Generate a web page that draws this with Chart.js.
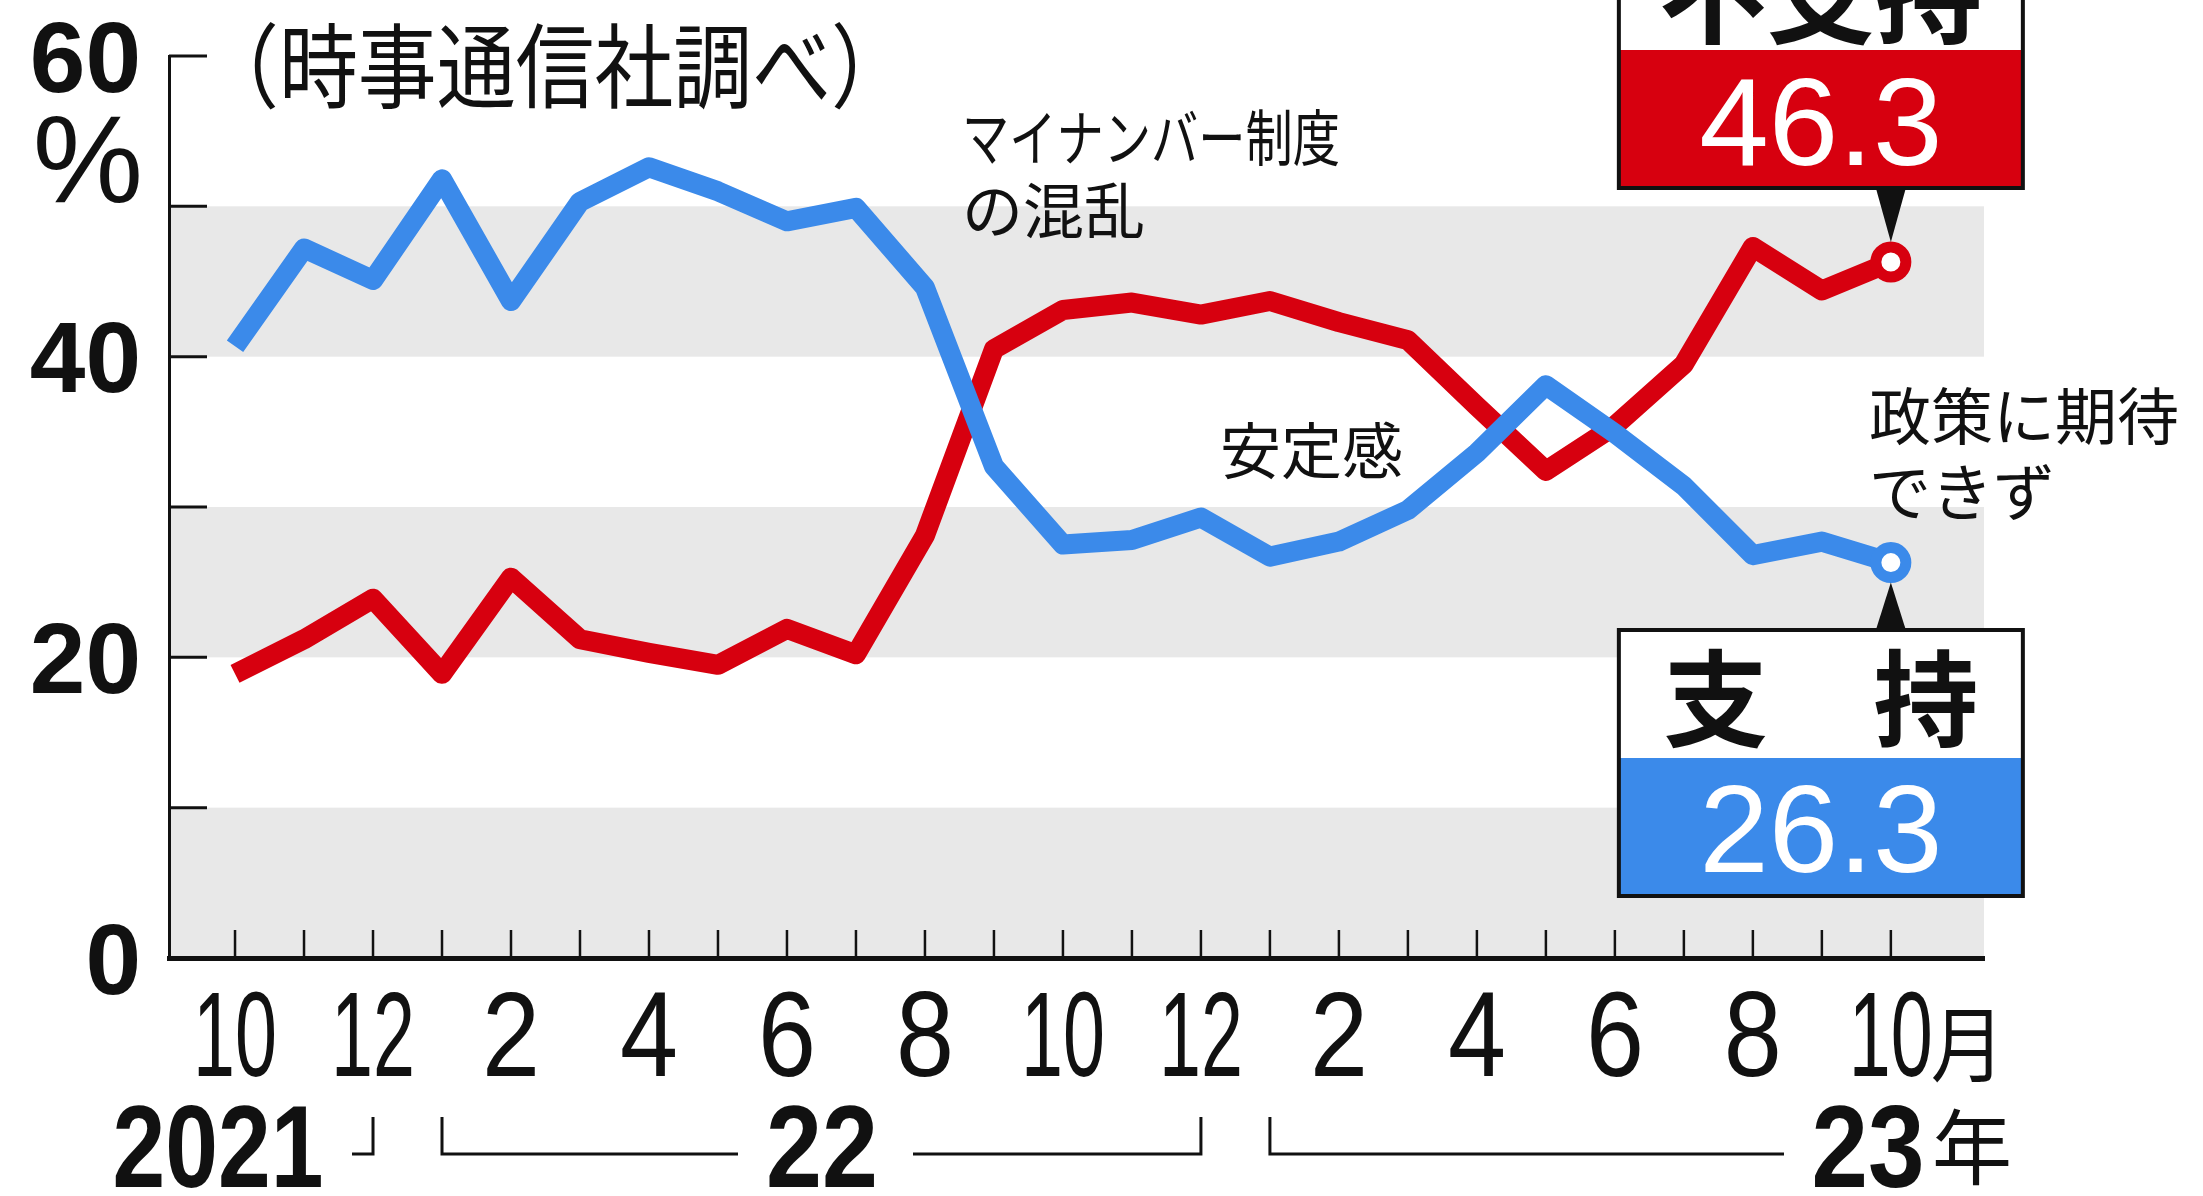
<!DOCTYPE html>
<html>
<head>
<meta charset="utf-8">
<script src="https://cdn.jsdelivr.net/npm/chart.js@4.4.0/dist/chart.umd.min.js"></script>
<style>
  html, body { margin: 0; padding: 0; background: #fff; overflow: hidden; }
</style>
</head>
<body>
<canvas id="grafica" width="2203" height="1196"></canvas>
<script>
// ===============================
// DATA (Jiji poll, Oct 2021 - Oct 2023)
// ===============================
const months  = ["10","11","12","1","2","3","4","5","6","7","8","9","10","11","12","1","2","3","4","5","6","7","8","9","10"];
const support = [40.7, 47.2, 45.1, 51.8, 43.7, 50.3, 52.6, 51.0, 49.0, 49.9, 44.6, 32.7, 27.5, 27.8, 29.3, 26.7, 27.7, 29.8, 33.6, 38.1, 34.9, 31.4, 26.8, 27.7, 26.3];
const oppose  = [18.9, 21.2, 23.9, 18.9, 25.3, 21.2, 20.3, 19.5, 21.9, 20.2, 28.1, 40.5, 43.1, 43.6, 42.8, 43.7, 42.3, 41.1, 36.7, 32.4, 35.4, 39.5, 47.3, 44.4, 46.3];
const yLabels = [0, 20, 40, 60];
const bands   = [[0, 10], [20, 30], [40, 50]];

const BLUE = "#3b8aea";
const RED  = "#d7000f";
const JP   = '"Noto Sans CJK JP", "Noto Sans", sans-serif';
const NUM  = '"Liberation Sans", Arial, sans-serif';

// digits: vertically centred on cap height
function num(ctx, s, x, cy, size, bold, color, align, maxW) {
  ctx.font = (bold ? "bold " : "") + size + "px " + NUM;
  ctx.fillStyle = color;
  ctx.textAlign = align;
  ctx.textBaseline = "alphabetic";
  const y = cy + size * 0.358;
  if (maxW) ctx.fillText(s, x, y, maxW); else ctx.fillText(s, x, y);
}

function jp(ctx, s, x, cy, size, bold, color, align, maxW) {
  ctx.font = (bold ? "bold " : "") + size + "px " + JP;
  ctx.fillStyle = color;
  ctx.textAlign = align;
  ctx.textBaseline = "middle";
  if (maxW) ctx.fillText(s, x, cy, maxW); else ctx.fillText(s, x, cy);
}

function line(ctx, pts, w) {
  ctx.beginPath();
  ctx.moveTo(pts[0][0], pts[0][1]);
  for (let i = 1; i < pts.length; i++) ctx.lineTo(pts[i][0], pts[i][1]);
  ctx.lineWidth = w;
  ctx.strokeStyle = "#111";
  ctx.stroke();
}

const deco = {
  id: "deco",
  beforeDraw(chart) {
    const { ctx, chartArea: a, scales: { y } } = chart;
    ctx.save();
    ctx.fillStyle = "#e8e8e8";
    bands.forEach(([lo, hi]) => {
      const t = y.getPixelForValue(hi), b = y.getPixelForValue(lo);
      ctx.fillRect(a.left, t, a.right - a.left, b - t);
    });
    ctx.restore();
  },
  beforeDatasetsDraw(chart) {
    const { ctx, chartArea: a, scales: { x, y } } = chart;
    ctx.save();
    for (let v = 0; v <= 60; v += 10) {
      const py = y.getPixelForValue(v);
      line(ctx, [[a.left, py], [a.left + 38, py]], 3);
    }
    months.forEach((m, i) => {
      const px = x.getPixelForValue(i);
      line(ctx, [[px, a.bottom], [px, a.bottom - 28]], 2.5);
    });
    ctx.restore();
  },
  afterDraw(chart) {
    const { ctx, scales: { x, y } } = chart;
    ctx.save();

    // y labels
    yLabels.forEach(v => num(ctx, String(v), 141, y.getPixelForValue(v), 100, true, "#111", "right"));
    num(ctx, "%", 143, 158, 124, false, "#111", "right");

    // month labels (every other month)
    months.forEach((m, i) => {
      if (i % 2) return;
      num(ctx, m, x.getPixelForValue(i), 1033, 120, false, "#111", "center", m.length === 1 ? 58 : 84);
    });
    jp(ctx, "月", x.getPixelForValue(24) + 40, 1044, 82, false, "#111", "left", 74);

    // year row
    const yy = 1145, lt = 1117, lb = 1154;
    num(ctx, "2021", 218, yy, 117, true, "#111", "center", 211);
    const x2 = x.getPixelForValue(2), x3 = x.getPixelForValue(3);
    const x14 = x.getPixelForValue(14), x15 = x.getPixelForValue(15);
    line(ctx, [[x2 - 21, lb], [x2, lb], [x2, lt]], 3);
    line(ctx, [[x3, lt], [x3, lb], [738, lb]], 3);
    num(ctx, "22", 822, yy, 117, true, "#111", "center", 112);
    line(ctx, [[913, lb], [x14, lb], [x14, lt]], 3);
    line(ctx, [[x15, lt], [x15, lb], [1784, lb]], 3);
    num(ctx, "23", 1868, yy, 117, true, "#111", "center", 113);
    jp(ctx, "年", 1932, 1147, 82, false, "#111", "left", 80);

    // title / annotations
    jp(ctx, "（時事通信社調べ）", 200, 66, 92, false, "#111", "left", 710);
    jp(ctx, "マイナンバー制度", 962, 138, 61, false, "#111", "left", 378);
    jp(ctx, "の混乱", 962, 211, 61, false, "#111", "left");
    jp(ctx, "安定感", 1220, 451, 61, false, "#111", "left");
    jp(ctx, "政策に期待", 1869, 416, 62, false, "#111", "left", 314);
    jp(ctx, "できず", 1869, 492, 62, false, "#111", "left");

    // value boxes
    const last = months.length - 1;
    const px = x.getPixelForValue(last);
    const pr = y.getPixelForValue(oppose[last]);
    const pb = y.getPixelForValue(support[last]);
    const bx0 = px - 272, bw = 404, cx = bx0 + bw / 2;

    // 不支持
    ctx.fillStyle = "#fff";
    ctx.fillRect(bx0, -40, bw, 90);
    ctx.fillStyle = RED;
    ctx.fillRect(bx0, 50, bw, 137);
    ctx.lineWidth = 4;
    ctx.strokeStyle = "#111";
    ctx.strokeRect(bx0, -40, bw, 228);
    jp(ctx, "不支持", cx, -6, 108, true, "#111", "center", 330);
    num(ctx, oppose[last].toFixed(1), cx, 120, 125, false, "#fff", "center");
    ctx.fillStyle = "#111";
    ctx.beginPath();
    ctx.moveTo(px - 15, 188); ctx.lineTo(px + 15, 188); ctx.lineTo(px, pr - 20);
    ctx.closePath(); ctx.fill();

    // 支持
    ctx.fillStyle = "#fff";
    ctx.fillRect(bx0, 630, bw, 128);
    ctx.fillStyle = BLUE;
    ctx.fillRect(bx0, 758, bw, 138);
    ctx.strokeRect(bx0, 630, bw, 266);
    jp(ctx, "支　持", cx, 698, 105, true, "#111", "center");
    num(ctx, support[last].toFixed(1), cx, 827, 125, false, "#fff", "center");
    ctx.fillStyle = "#111";
    ctx.beginPath();
    ctx.moveTo(px - 15, 630); ctx.lineTo(px + 15, 630); ctx.lineTo(px, pb + 20);
    ctx.closePath(); ctx.fill();

    ctx.restore();
  }
};

const lastIdx = months.length - 1;
const endPoint = c => (c.dataIndex === lastIdx ? 15 : 0);

new Chart(document.getElementById("grafica").getContext("2d"), {
  type: "line",
  data: {
    labels: months,
    datasets: [
      {
        label: "支持",
        data: support.map((v, i) => ({ x: i, y: v })),
        borderColor: BLUE, borderWidth: 20, borderJoinStyle: "round",
        pointRadius: endPoint, pointBorderWidth: 11,
        pointBackgroundColor: "#fff", pointBorderColor: BLUE, tension: 0
      },
      {
        label: "不支持",
        data: oppose.map((v, i) => ({ x: i, y: v })),
        borderColor: RED, borderWidth: 20, borderJoinStyle: "round",
        pointRadius: endPoint, pointBorderWidth: 11,
        pointBackgroundColor: "#fff", pointBorderColor: RED, tension: 0
      }
    ]
  },
  options: {
    responsive: false,
    animation: false,
    layout: { padding: { top: 56, right: 219, left: 0, bottom: 0 } },
    plugins: { legend: { display: false }, tooltip: { enabled: false } },
    scales: {
      x: {
        type: "linear", min: -0.957, max: 25.35,
        ticks: { display: false }, grid: { display: false },
        border: { color: "#111", width: 5 },
        afterFit: s => { s.height = 238; }
      },
      y: {
        min: 0, max: 60,
        ticks: { display: false, stepSize: 10 }, grid: { display: false },
        border: { color: "#111", width: 3 },
        afterFit: s => { s.width = 169; }
      }
    }
  },
  plugins: [deco]
});
</script>
</body>
</html>
